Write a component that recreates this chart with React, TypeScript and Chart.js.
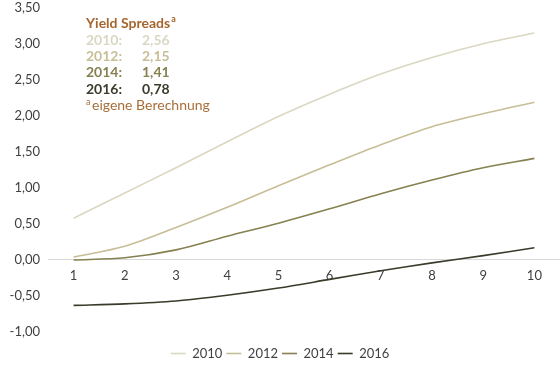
import React, { useEffect, useRef } from "react";
import { Chart, registerables } from "chart.js";

Chart.register(...registerables);

const categories = ["1", "2", "3", "4", "5", "6", "7", "8", "9", "10"];
const s2010 = [0.58, 0.93, 1.28, 1.64, 1.99, 2.3, 2.58, 2.81, 3.0, 3.15];
const s2012 = [0.04, 0.19, 0.45, 0.73, 1.03, 1.32, 1.6, 1.85, 2.03, 2.19];
const s2014 = [0.0, 0.03, 0.14, 0.33, 0.51, 0.71, 0.92, 1.11, 1.28, 1.41];
const s2016 = [-0.63, -0.61, -0.57, -0.49, -0.39, -0.27, -0.15, -0.04, 0.06, 0.17];
const seriesNames = ["2010", "2012", "2014", "2016"];
const seriesColors = ["#DAD7C2", "#C6BE97", "#858150", "#3B3A2B"];
const noteTitle = "Yield Spreads";
const noteRows = [
  ["2010:", "2,56"],
  ["2012:", "2,15"],
  ["2014:", "1,41"],
  ["2016:", "0,78"],
];
const noteFoot = "eigene Berechnung";
const FONT = "Lato, 'Open Sans', sans-serif";
const SHIFT = 8;

const notePlugin = {
  id: "notePlugin",
  afterDraw(chart: any) {
    const ctx = chart.ctx;
    ctx.save();
    ctx.translate(0, SHIFT);
    ctx.textBaseline = "middle";
    ctx.textAlign = "left";
    const x0 = 86;
    ctx.fillStyle = "#A6652D";
    ctx.font = `bold 14px ${FONT}`;
    ctx.fillText(noteTitle, x0, 23);
    const w = ctx.measureText(noteTitle).width;
    ctx.font = `bold 9px ${FONT}`;
    ctx.fillText("a", x0 + w + 1, 19);
    const rowY = [40, 56, 72, 89];
    noteRows.forEach((r, i) => {
      ctx.fillStyle = seriesColors[i];
      ctx.font = `bold 14px ${FONT}`;
      ctx.fillText(r[0], x0, rowY[i]);
      ctx.fillText(r[1], 142, rowY[i]);
    });
    ctx.fillStyle = "#A86E38";
    ctx.font = `9px ${FONT}`;
    ctx.fillText("a", x0, 102);
    ctx.font = `14px ${FONT}`;
    ctx.fillText(noteFoot, x0 + 6, 105);
    ctx.restore();
  },
};

export default function App() {
  const ref = useRef<HTMLCanvasElement>(null);
  useEffect(() => {
    document.body.style.margin = "0";
    document.body.style.overflow = "hidden";
    const data = [s2010, s2012, s2014, s2016];
    const chart = new Chart(ref.current!, {
      type: "line",
      data: {
        labels: categories,
        datasets: seriesNames.map((n, i) => ({
          label: n,
          data: data[i],
          borderColor: seriesColors[i],
          backgroundColor: seriesColors[i],
          borderWidth: 1.6,
          pointRadius: 0,
          tension: 0.3,
        })),
      },
      options: {
        animation: false,
        responsive: false,
        layout: { padding: { top: 0, right: 0, bottom: 0, left: 0 } },
        plugins: {
          tooltip: { enabled: false },
          legend: {
            position: "bottom",
            labels: {
              usePointStyle: true,
              pointStyle: "line",
              pointStyleWidth: 15,
              boxWidth: 13,
              color: "#404040",
              font: { family: FONT, size: 13 },
              padding: 4,
            },
          },
        },
        scales: {
          x: {
            position: { y: 0 } as any,
            offset: true,
            grid: { display: false },
            border: { display: false },
            ticks: {
              color: "#404040",
              font: { family: FONT, size: 13 },
              padding: 0,
              maxRotation: 0,
            },
          },
          gap: {
            type: "category",
            position: "bottom",
            display: true,
            grid: { display: false },
            border: { display: false },
            ticks: { display: false },
            afterFit: (s: any) => {
              s.height = 11;
            },
          },
          y: {
            min: -1,
            max: 3.5,
            grid: {
              display: true,
              drawTicks: false,
              color: (c: any) => (c.tick && c.tick.value === 0 ? "#D9D9D9" : "rgba(0,0,0,0)"),
            },
            border: { display: false },
            afterFit: (s: any) => {
              s.width = 48;
            },
            ticks: {
              stepSize: 0.5,
              color: "#404040",
              font: { family: FONT, size: 13 },
              padding: 8,
              callback: (v: any) => Number(v).toFixed(2).replace(".", ","),
            },
          },
        },
      },
      plugins: [notePlugin],
    });
    return () => chart.destroy();
  }, []);
  return (
    <canvas
      ref={ref}
      width={560}
      height={370 + SHIFT}
      style={{ display: "block", marginTop: -SHIFT }}
    />
  );
}
